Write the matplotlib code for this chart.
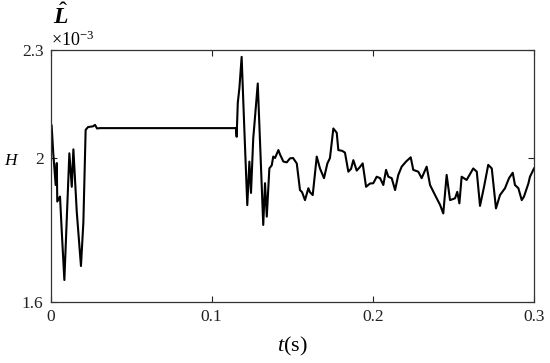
import matplotlib
matplotlib.use("Agg")
import matplotlib.pyplot as plt

plt.rcParams['font.family'] = ['Liberation Serif', 'DejaVu Serif']
plt.rcParams['mathtext.fontset'] = 'custom'
plt.rcParams['mathtext.rm'] = 'Liberation Serif'
plt.rcParams['mathtext.it'] = 'Liberation Serif:italic'
plt.rcParams['mathtext.bf'] = 'Liberation Serif:bold:italic'

# time (s)
t = [0.0007, 0.0017, 0.0032, 0.0039, 0.0042, 0.0059, 0.0070, 0.0086,
     0.0117, 0.0132, 0.0142, 0.0163, 0.0189, 0.0204, 0.0218, 0.0233,
     0.0264, 0.0276, 0.0289, 0.0307, 0.1151, 0.1155, 0.1162, 0.1172,
     0.1186, 0.1201, 0.1221, 0.1234, 0.1244, 0.1258, 0.1265, 0.1286,
     0.1320, 0.1331, 0.1342, 0.1358, 0.1373, 0.1382, 0.1393, 0.1414,
     0.1424, 0.1445, 0.1466, 0.1486, 0.1505, 0.1528, 0.1548, 0.1561,
     0.1579, 0.1600, 0.1610, 0.1627, 0.1652, 0.1672, 0.1697, 0.1718,
     0.1734, 0.1755, 0.1776, 0.1786, 0.1809, 0.1827, 0.1848, 0.1865,
     0.1879, 0.1900, 0.1920, 0.1937, 0.1958, 0.1982, 0.2003, 0.2024,
     0.2045, 0.2065, 0.2082, 0.2096, 0.2117, 0.2138, 0.2158, 0.2179,
     0.2206, 0.2235, 0.2251, 0.2282, 0.2303, 0.2334, 0.2355, 0.2386,
     0.2417, 0.2437, 0.2458, 0.2479, 0.2510, 0.2524, 0.2537, 0.2551,
     0.2582, 0.2623, 0.2645, 0.2665, 0.2690, 0.2716, 0.2738, 0.2764,
     0.2789, 0.2820, 0.2845, 0.2868, 0.2882, 0.2903, 0.2924, 0.2938,
     0.2965, 0.2975, 0.3000]

# estimated inductance (x 1e-3 H)
L = [2.090, 2.014, 1.925, 1.986, 1.879, 1.893, 1.795, 1.661,
     2.013, 1.920, 2.024, 1.850, 1.700, 1.822, 2.078, 2.086,
     2.088, 2.092, 2.082, 2.083, 2.083, 2.059, 2.153, 2.194,
     2.281, 2.100, 1.869, 1.990, 1.903, 2.055, 2.092, 2.207,
     1.814, 1.930, 1.837, 1.971, 1.980, 2.004, 2.000, 2.022,
     2.010, 1.990, 1.988, 1.999, 2.000, 1.985, 1.911, 1.905,
     1.883, 1.916, 1.905, 1.897, 2.004, 1.971, 1.944, 1.985,
     2.000, 2.082, 2.070, 2.022, 2.020, 2.015, 1.962, 1.970,
     1.994, 1.965, 1.975, 1.985, 1.920, 1.929, 1.930, 1.948,
     1.944, 1.925, 1.967, 1.948, 1.944, 1.911, 1.953, 1.976,
     1.990, 2.002, 1.967, 1.962, 1.944, 1.976, 1.925, 1.897,
     1.870, 1.846, 1.953, 1.883, 1.888, 1.906, 1.874, 1.948,
     1.939, 1.971, 1.962, 1.867, 1.920, 1.981, 1.971, 1.860,
     1.897, 1.916, 1.944, 1.959, 1.925, 1.916, 1.883, 1.893,
     1.929, 1.948, 1.971]

xticks = [0, 0.1, 0.2, 0.3]
xtick_labels = ['0', '0.1', '0.2', '0.3']
yticks = [1.6, 2.0, 2.3]
ytick_labels = ['1.6', '2', '2.3']

fig = plt.figure(figsize=(5.5, 3.63), dpi=100)
ax = fig.add_axes([50.5 / 550, 61 / 363, (534 - 50.5) / 550, 252 / 363])
ax.plot(t, L, color='black', lw=1.5)

ax.set_xlim(0, 0.3)
ax.set_ylim(1.6, 2.3)
ax.set_xticks(xticks)
ax.set_xticklabels(xtick_labels)
ax.set_yticks(yticks)
ax.set_yticklabels(ytick_labels)
ax.tick_params(direction='in', top=True, right=True, length=4, width=0.8,
               labelsize=12.5, pad=5, colors='#222222')
for s in ax.spines.values():
    s.set_linewidth(0.9)
    s.set_color('#333333')

fig.text(292 / 550, 1 - 346 / 363, r'$t$(s)', ha='center', va='center', fontsize=16)
fig.text(12 / 550, 1 - 161 / 363, r'$H$', ha='center', va='center', fontsize=12.5)
fig.text(51 / 550, 1 - 40 / 363, r'$\times10^{-3}$', ha='left', va='center', fontsize=13)
fig.text(61 / 550, 1 - 16 / 363, r'$\hat{\mathbf{L}}$', ha='center', va='center', fontsize=17)

fig.savefig('out.png', dpi=100)
